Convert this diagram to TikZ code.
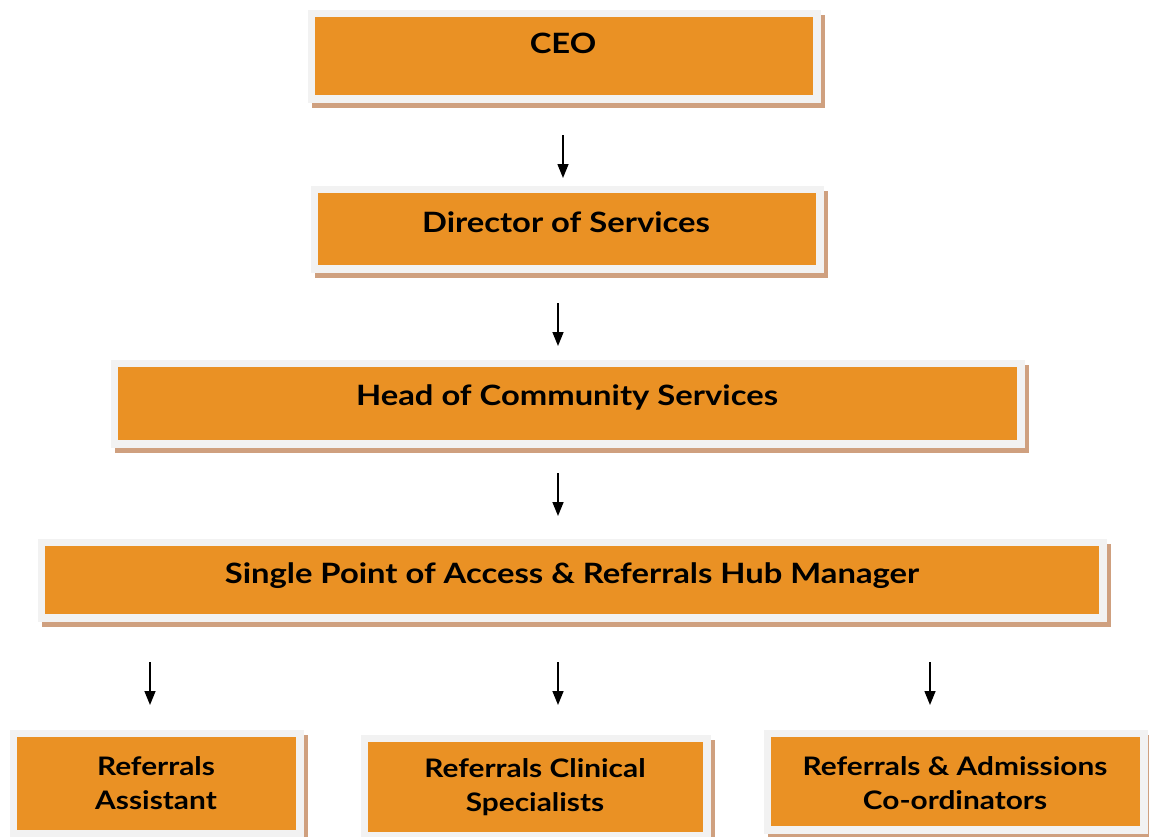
\documentclass[tikz,border=0pt]{standalone}
\usepackage{fontspec}
\setmainfont{Lato}[FakeStretch=1.17]
\usetikzlibrary{arrows.meta}
\definecolor{boxorange}{HTML}{EA9124}
\definecolor{boxgray}{HTML}{F2F2F2}
\definecolor{boxtan}{HTML}{CFA07F}
\tikzset{
  orgbox/.style={rectangle, fill=boxorange, inner sep=0pt,
    preaction={fill=boxtan, draw=boxtan, line width=15pt, transform canvas={xshift=4pt, yshift=-5pt}},
    preaction={draw=boxgray, line width=15pt}},
  lbl/.style={font=\fontsize{28}{34}\selectfont\bfseries, align=center, text=black, inner sep=0pt},
  sublbl/.style={lbl, font=\fontsize{25.5}{34}\selectfont\bfseries},
  arr/.style={line width=1.5pt, -{Triangle[length=14pt, width=11pt]}}
}
\begin{document}
\begin{tikzpicture}[x=1pt, y=-1pt]
\useasboundingbox (0,0) rectangle (1149,836);
\clip (0,0) rectangle (1149,836);
% boxes
\node[orgbox, minimum width=498pt, minimum height=78pt] (ceo) at (564,56) {};
\node[orgbox, minimum width=498pt, minimum height=72pt] (dir) at (567,229) {};
\node[orgbox, minimum width=899pt, minimum height=73pt] (head) at (567.5,403.5) {};
\node[orgbox, minimum width=1054pt, minimum height=68pt] (spa) at (572,580) {};
\node[orgbox, minimum width=279pt, minimum height=93pt] (ra) at (156.5,783.5) {};
\node[orgbox, minimum width=335pt, minimum height=90pt] (rcs) at (535.5,787) {};
\node[orgbox, minimum width=369pt, minimum height=89pt] (rac) at (955.5,781.5) {};
% labels
\node[lbl] (tceo) at (563,43) {CEO};
\node[lbl] (tdir) at (566,222) {Director of Services};
\node[lbl] (thead) at (567,397) {Head of Community Services};
\node[lbl] (tspa) at (572,576) {Single Point of Access \& Referrals Hub Manager};
\node[sublbl] (tra) at (156,783) {Referrals\\Assistant};
\node[sublbl] (trcs) at (535,787) {Referrals Clinical\\Specialists};
\node[sublbl] (trac) at (955,783) {Referrals \& Admissions\\Co-ordinators};
% arrows
\coordinate (a1s) at (563,135); \coordinate (a1e) at (563,178);
\coordinate (a2s) at (558,303); \coordinate (a2e) at (558,346);
\coordinate (a3s) at (558,473); \coordinate (a3e) at (558,516);
\coordinate (a4s) at (150,662); \coordinate (a4e) at (150,705);
\coordinate (a5s) at (558,662); \coordinate (a5e) at (558,705);
\coordinate (a6s) at (930,662); \coordinate (a6e) at (930,705);
\draw[arr] (a1s) -- (a1e);
\draw[arr] (a2s) -- (a2e);
\draw[arr] (a3s) -- (a3e);
\draw[arr] (a4s) -- (a4e);
\draw[arr] (a5s) -- (a5e);
\draw[arr] (a6s) -- (a6e);
\end{tikzpicture}
\end{document}
